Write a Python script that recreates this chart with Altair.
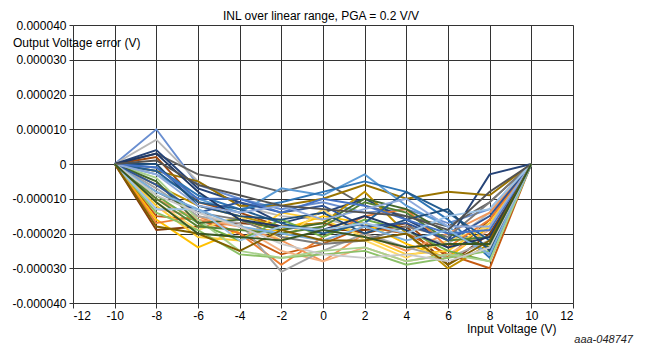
import altair as alt
import pandas as pd

# Input voltage points (V)
x_vals = [-10, -8, -6, -4, -2, 0, 2, 4, 6, 8, 10]

# Output voltage error per curve, in microvolts, at x = -8 .. 8 (ends are 0)
colors = [
    "#698ED0", "#B7B7B7", "#636363", "#264478", "#9E480E", "#843C0C",
    "#C55A11", "#997300", "#BF9000", "#5B9BD5", "#2E75B6", "#FFC000",
    "#FFCD33", "#FFD966", "#ED7D31", "#F1975A", "#F4B183", "#A5A5A5",
    "#7B7B7B", "#70AD47", "#8CC168", "#A9D18E", "#43682B", "#548235",
    "#255E91", "#1F4E79", "#2F5597", "#203864", "#4472C4", "#8FAADC",
    "#9DC3E6", "#7CAFDD", "#525252", "#7F6000", "#C9C9C9", "#385723",
]
inner = [
    [10, -6, -10, -13, -11, -14, -13, -17, -13],
    [7, -5, -12, -15, -16, -18, -20, -23, -14],
    [3, -3, -5, -8, -5, -12, -15, -18, -11],
    [4, -7, -11, -17, -14, -10, -16, -22, -3],
    [2, -11, -14, -18, -17, -20, -17, -27, -16],
    [-19, -18, -17, -18, -19, -19, -18, -29, -20],
    [-15, -16, -20, -26, -23, -18, -20, -26, -30],
    [-2, -5, -12, -12, -10, -6, -10, -8, -9],
    [-6, -12, -15, -18, -17, -8, -20, -30, -23],
    [-3, -10, -14, -7, -9, -3, -12, -18, -26],
    [-1, -9, -13, -11, -8, -5, -8, -16, -27],
    [-16, -24, -19, -19, -15, -17, -23, -27, -18],
    [-12, -21, -22, -14, -16, -21, -26, -25, -17],
    [-11, -19, -15, -22, -13, -22, -27, -22, -18],
    [-17, -15, -20, -29, -21, -15, -13, -24, -16],
    [-10, -16, -18, -22, -28, -20, -25, -20, -14],
    [-13, -15, -18, -25, -28, -24, -28, -26, -19],
    [-7, -15, -17, -31, -25, -20, -24, -27, -22],
    [-8, -14, -16, -21, -23, -22, -18, -21, -11],
    [-9, -17, -22, -16, -21, -16, -19, -25, -28],
    [-14, -19, -26, -27, -26, -25, -29, -27, -25],
    [-4, -16, -25, -27, -25, -24, -28, -26, -28],
    [-5, -17, -16, -19, -17, -10, -13, -20, -24],
    [-10, -18, -19, -20, -18, -11, -14, -22, -21],
    [-2, -11, -13, -17, -20, -17, -8, -14, -22],
    [0, -12, -15, -16, -14, -20, -16, -13, -25],
    [-6, -14, -11, -14, -12, -18, -17, -22, -15],
    [3, -8, -16, -18, -19, -15, -19, -24, -21],
    [-1, -10, -10, -14, -10, -12, -16, -20, -19],
    [-3, -12, -14, -12, -16, -13, -10, -18, -18],
    [-13, -13, -22, -18, -19, -17, -20, -15, -13],
    [-8, -13, -18, -20, -22, -18, -22, -19, -26],
    [1, -6, -9, -12, -13, -14, -15, -19, -8],
    [-18, -20, -25, -19, -22, -22, -20, -29, -22],
    [-9, -14, -18, -23, -26, -27, -26, -28, -24],
    [-11, -20, -21, -22, -19, -21, -24, -23, -23],
]

x_ticks = list(range(-12, 13, 2))
y_ticks = list(range(-40, 41, 10))

rows = []
names = []
for i, vals in enumerate(inner):
    name = f"s{i:02d}"
    names.append(name)
    full = [0] + vals + [0]
    for xv, yv in zip(x_vals, full):
        rows.append({"x": xv, "y": yv, "s": name, "o": i})
df = pd.DataFrame(rows)

FONT = "Liberation Sans"
GRID = "#333333"

lines = alt.Chart(df).mark_line(strokeWidth=1.9, clip=True).encode(
    x=alt.X("x:Q", scale=alt.Scale(domain=[-12, 12], nice=False),
            axis=alt.Axis(values=x_ticks, title=None, grid=True, gridColor=GRID,
                          gridOpacity=1, gridWidth=1, domain=False,
                          tickColor=GRID, tickSize=5, labelPadding=2,
                          labelFont=FONT, labelFontSize=12, labelColor="#000",
                          labelExpr="(datum.value < 0 ? '-' : '') + abs(datum.value)")),
    y=alt.Y("y:Q", scale=alt.Scale(domain=[-40, 40], nice=False),
            axis=alt.Axis(values=y_ticks, title=None, grid=True, gridColor=GRID,
                          gridOpacity=1, gridWidth=1, domain=False,
                          tickColor=GRID, tickSize=4, labelPadding=3,
                          labelFont=FONT, labelFontSize=12, labelColor="#000",
                          labelExpr="datum.value == 0 ? '0' : (datum.value < 0 ? '-' : '') + '0.0000' + abs(datum.value)")),
    color=alt.Color("s:N", scale=alt.Scale(domain=names, range=colors), legend=None),
    order="o:Q",
    detail="s:N",
)

def label(text, x, y, align="left", size=12, style="normal", color="#000"):
    return alt.Chart(pd.DataFrame({"t": [text]})).mark_text(
        align=align, baseline="middle", font=FONT, fontSize=size,
        fontStyle=style, color=color
    ).encode(text="t:N", x=alt.value(x), y=alt.value(y))

title = label("INL over linear range, PGA = 0.2 V/V", 248, -9, align="center", size=12)
ytitle = label("Output Voltage error (V)", -60, 18, size=12)
xtitle = label("Input Voltage (V)", 394, 304, size=12)
footer = label("aaa-048747", 560, 315, align="right", size=11, style="italic", color="#222")

chart = alt.layer(lines, title, ytitle, xtitle, footer).properties(
    width=500, height=278,
    padding={"left": 65, "top": 17, "right": 66, "bottom": 43},
    autosize=alt.AutoSizeParams(type="none"),
).configure_view(stroke=GRID, strokeWidth=1).configure(background="white")

chart.save("out.html", embed_options={"renderer": "svg", "actions": False})
